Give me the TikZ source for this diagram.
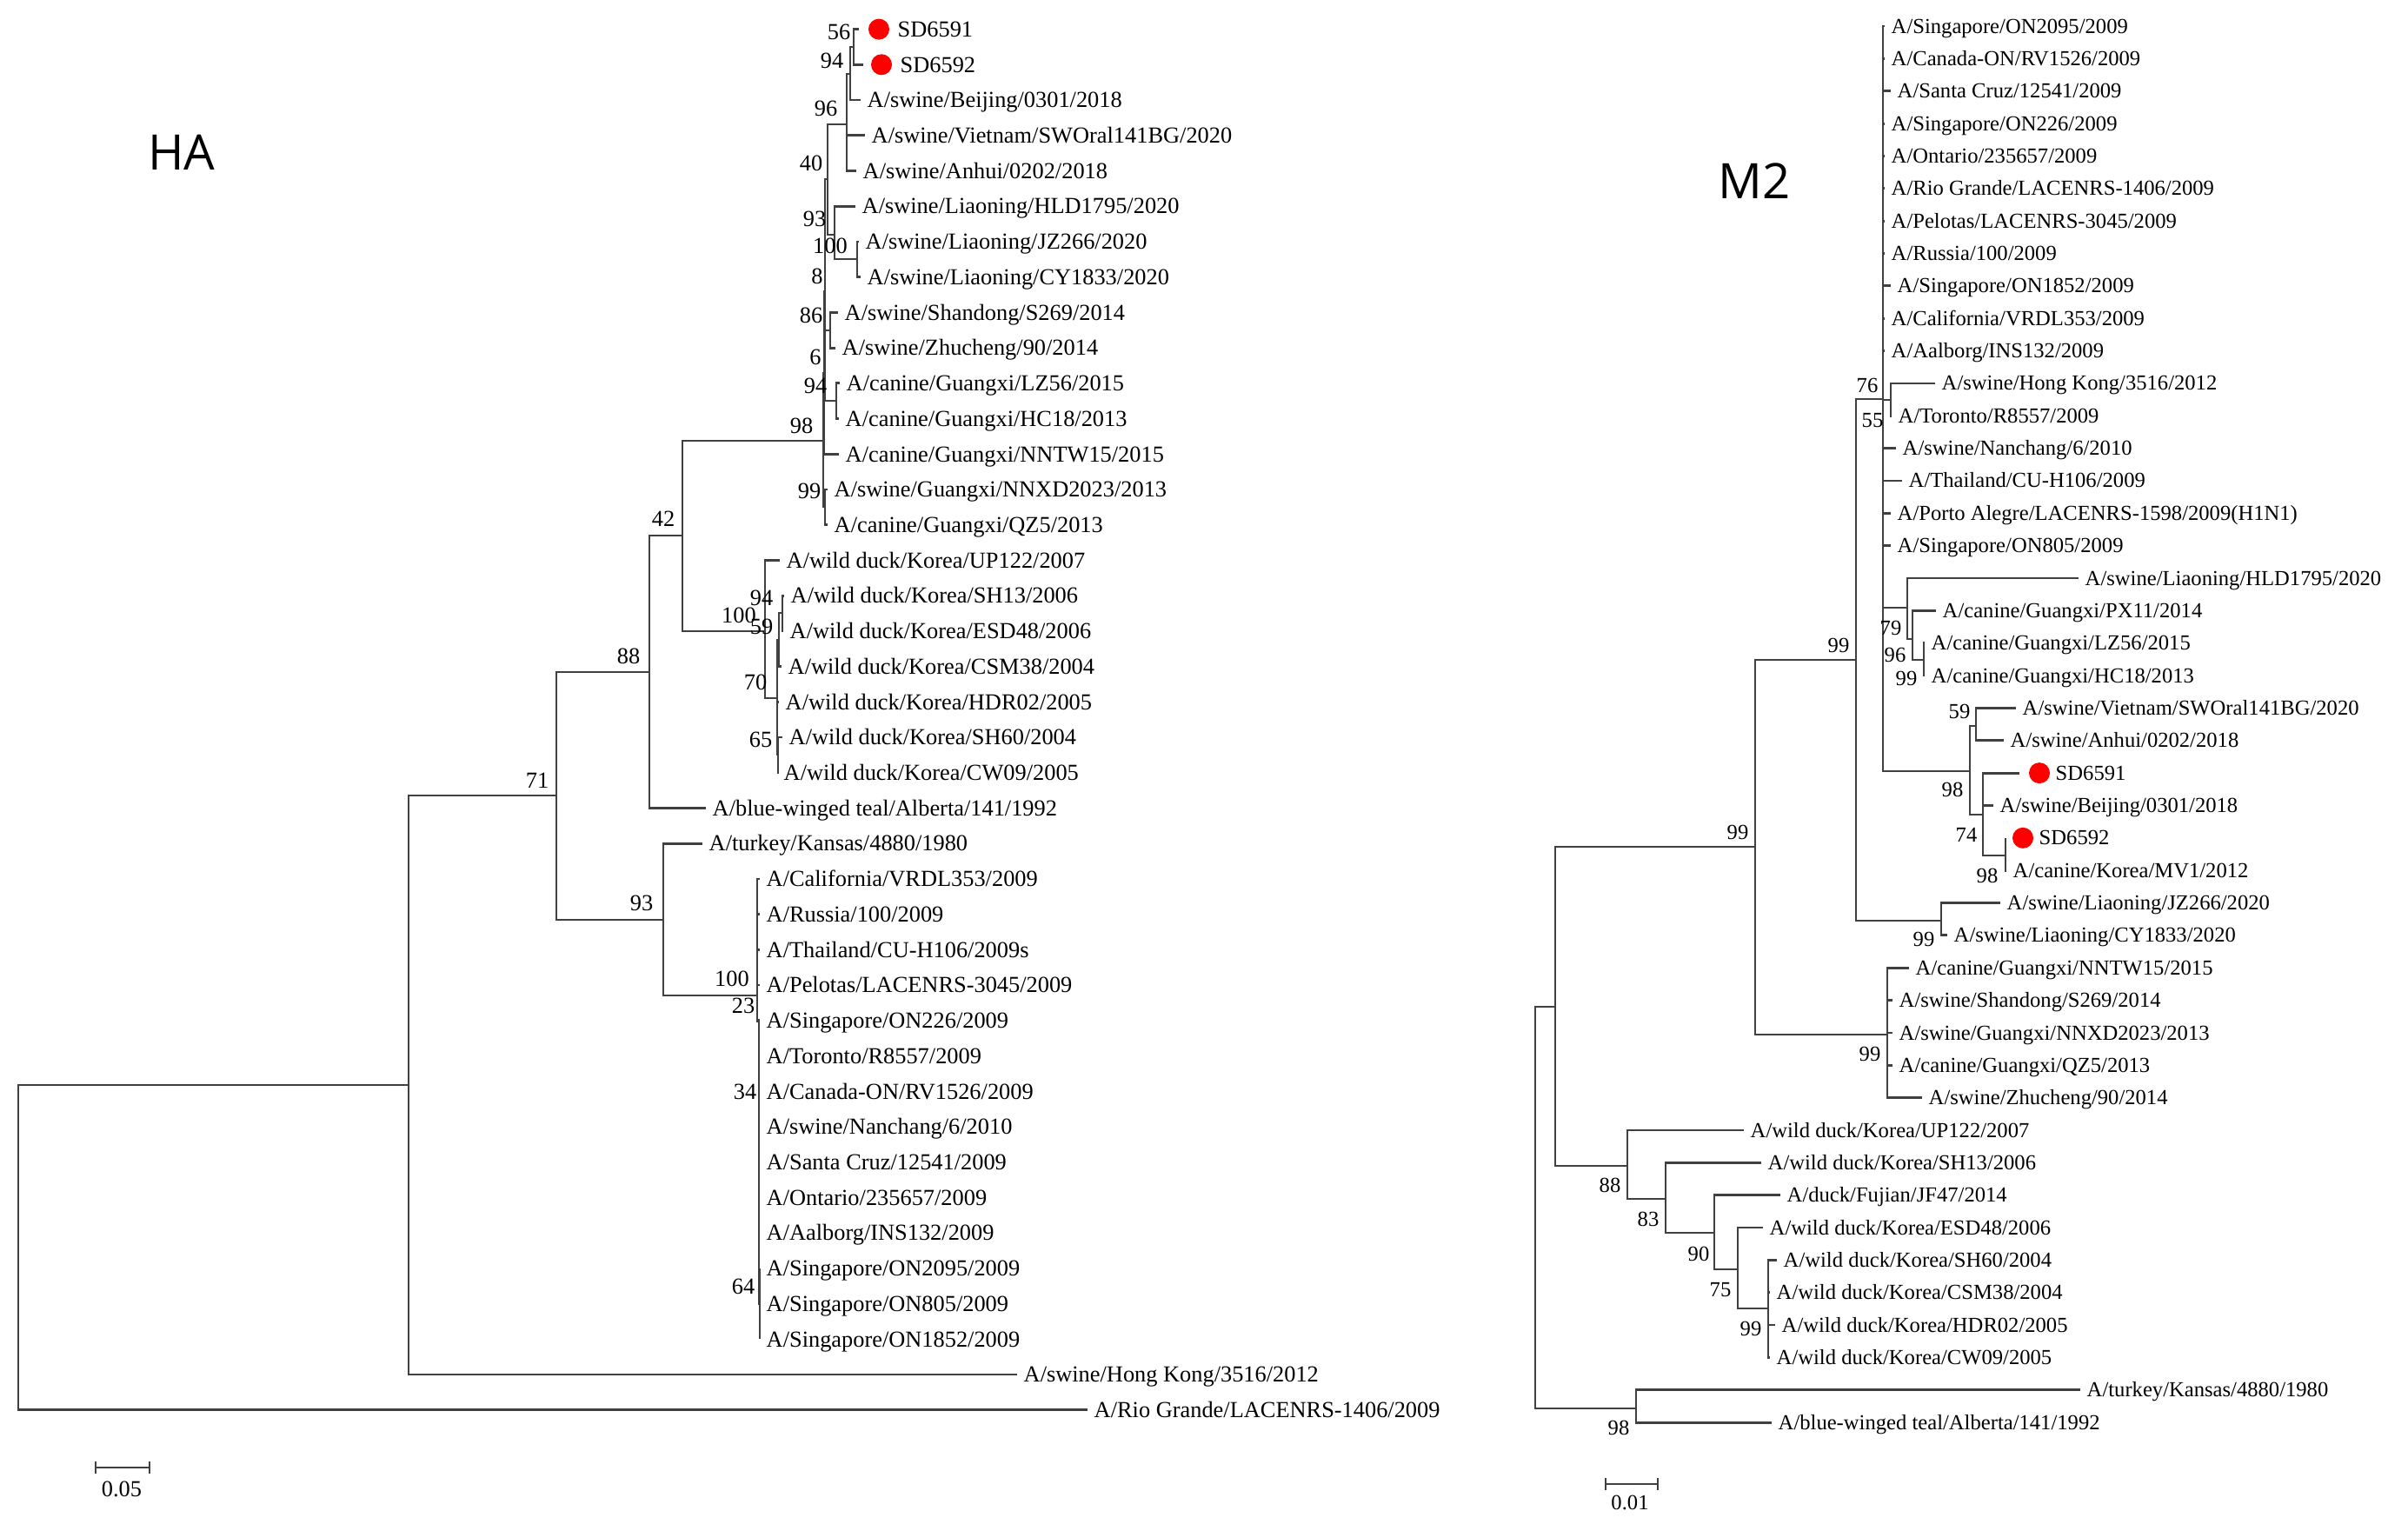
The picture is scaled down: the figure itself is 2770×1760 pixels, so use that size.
\documentclass[tikz,border=0pt]{standalone}
\usepackage{fontspec}
\setmainfont{Liberation Serif}
\newfontfamily\titlefont{Open Sans}
\usepackage{tikz}
\tikzset{
    branch/.style={draw=black!75, line width=0.8pt},
    haleaf/.style={anchor=west, inner xsep=0.7mm, inner ysep=0pt, text height=5pt, text depth=0pt, font=\fontsize{7.5}{9}\selectfont},
    mleaf/.style={haleaf, text height=4.6pt, font=\fontsize{7}{8.5}\selectfont},
    haboot/.style={inner sep=0pt, text height=5pt, text depth=0pt, font=\fontsize{7.5}{9}\selectfont},
    mboot/.style={haboot, text height=4.6pt, font=\fontsize{7}{8.5}\selectfont},
    hit/.style={circle, fill=red, inner sep=0pt, minimum size=2.4mm},
    treetitle/.style={inner sep=0pt, text height=11.4pt, text depth=0pt, font=\titlefont\fontsize{16}{19}\selectfont}
}

\begin{document}
\begin{tikzpicture}[x=0.01cm, y=-0.01cm]
    \useasboundingbox (0,0) rectangle (2770,1760);

    % HA tree
    \node[treetitle] (haTitle) at (209,175) {HA};

    % HA leaves
    \node[haleaf] (hSD1) at (1025,33.6) {SD6591};
    \node[hit] (hDot1) at (1011,33.6) {};
    \coordinate (hTip1) at (988,33.6);
    \node[haleaf] (hSD2) at (1028,74.3) {SD6592};
    \node[hit] (hDot2) at (1014,74.3) {};
    \coordinate (hTip2) at (993,74.3);
    \node[haleaf] (hBeijing) at (990,115.0) {A/swine/Beijing/0301/2018};
    \node[haleaf] (hVietnam) at (995,155.8) {A/swine/Vietnam/SWOral141BG/2020};
    \node[haleaf] (hAnhui) at (985,196.5) {A/swine/Anhui/0202/2018};
    \node[haleaf] (hHLD) at (984,237.2) {A/swine/Liaoning/HLD1795/2020};
    \node[haleaf] (hJZ) at (988,277.9) {A/swine/Liaoning/JZ266/2020};
    \node[haleaf] (hCY) at (990,318.6) {A/swine/Liaoning/CY1833/2020};
    \node[haleaf] (hShandong) at (964,359.4) {A/swine/Shandong/S269/2014};
    \node[haleaf] (hZhucheng) at (961,400.1) {A/swine/Zhucheng/90/2014};
    \node[haleaf] (hLZ) at (966,440.8) {A/canine/Guangxi/LZ56/2015};
    \node[haleaf] (hHC) at (965,481.5) {A/canine/Guangxi/HC18/2013};
    \node[haleaf] (hNNTW) at (965,522.2) {A/canine/Guangxi/NNTW15/2015};
    \node[haleaf] (hNNXD) at (952,563.0) {A/swine/Guangxi/NNXD2023/2013};
    \node[haleaf] (hQZ) at (952,603.7) {A/canine/Guangxi/QZ5/2013};
    \node[haleaf] (hUP) at (897,644.4) {A/wild duck/Korea/UP122/2007};
    \node[haleaf] (hSH13) at (902,685.1) {A/wild duck/Korea/SH13/2006};
    \node[haleaf] (hESD) at (901,725.8) {A/wild duck/Korea/ESD48/2006};
    \node[haleaf] (hCSM) at (899,766.6) {A/wild duck/Korea/CSM38/2004};
    \node[haleaf] (hHDR) at (896,807.3) {A/wild duck/Korea/HDR02/2005};
    \node[haleaf] (hSH60) at (900,848.0) {A/wild duck/Korea/SH60/2004};
    \node[haleaf] (hCW) at (894,888.7) {A/wild duck/Korea/CW09/2005};
    \node[haleaf] (hTeal) at (812,929.4) {A/blue-winged teal/Alberta/141/1992};
    \node[haleaf] (hTurkey) at (808,970.1) {A/turkey/Kansas/4880/1980};
    \node[haleaf] (hCal) at (874,1010.9) {A/California/VRDL353/2009};
    \node[haleaf] (hRus) at (874,1051.6) {A/Russia/100/2009};
    \node[haleaf] (hThai) at (874,1092.3) {A/Thailand/CU-H106/2009s};
    \node[haleaf] (hPel) at (874,1133.0) {A/Pelotas/LACENRS-3045/2009};
    \node[haleaf] (hON226) at (874,1173.7) {A/Singapore/ON226/2009};
    \node[haleaf] (hTor) at (874,1214.5) {A/Toronto/R8557/2009};
    \node[haleaf] (hCan) at (874,1255.2) {A/Canada-ON/RV1526/2009};
    \node[haleaf] (hNan) at (874,1295.9) {A/swine/Nanchang/6/2010};
    \node[haleaf] (hSC) at (874,1336.6) {A/Santa Cruz/12541/2009};
    \node[haleaf] (hOnt) at (874,1377.3) {A/Ontario/235657/2009};
    \node[haleaf] (hAal) at (874,1418.1) {A/Aalborg/INS132/2009};
    \node[haleaf] (hON2095) at (874,1458.8) {A/Singapore/ON2095/2009};
    \node[haleaf] (hON805) at (874,1499.5) {A/Singapore/ON805/2009};
    \node[haleaf] (hON1852) at (874,1540.2) {A/Singapore/ON1852/2009};
    \node[haleaf] (hHK) at (1170,1580.9) {A/swine/Hong Kong/3516/2012};
    \node[haleaf] (hRio) at (1251,1621.7) {A/Rio Grande/LACENRS-1406/2009};

    % HA inner nodes
    \coordinate (hR) at (21,1434);
    \coordinate (hA) at (470,1248);
    \coordinate (hB) at (640,915);
    \coordinate (hC) at (747,773);
    \coordinate (hD) at (763,1058);
    \coordinate (hE) at (785,616);
    \coordinate (hF) at (947,507);
    \coordinate (hK) at (948,429);
    \coordinate (h8) at (949,335);
    \coordinate (h40) at (952,206);
    \coordinate (h96) at (974,143);
    \coordinate (h94a) at (978,85);
    \coordinate (h56) at (982,54);
    \coordinate (h93) at (960,270);
    \coordinate (h100) at (986,298);
    \coordinate (h86) at (955,380);
    \coordinate (h94b) at (962,461);
    \coordinate (h99) at (949,583);
    \coordinate (hG) at (880,726);
    \coordinate (hH) at (894,803);
    \coordinate (h59) at (896,736);
    \coordinate (h94w) at (900,705);
    \coordinate (h65) at (895,868);
    \coordinate (hP) at (871,1145);
    \coordinate (h23) at (873,1175);
    \coordinate (h34) at (873,1276);
    \coordinate (h64) at (874,1500);

    % HA branches
    \draw[branch] (hR) |- (hA) (hR) |- (hRio);
    \draw[branch] (hA) |- (hB) (hA) |- (hHK);
    \draw[branch] (hB) |- (hC) (hB) |- (hD);
    \draw[branch] (hC) |- (hE) (hC) |- (hTeal);
    \draw[branch] (hE) |- (hF) (hE) |- (hG);
    \draw[branch] (hF) |- (hK) (hF) |- (h99);
    \draw[branch] (hK) |- (h8) (hK) |- (hNNTW);
    \draw[branch] (h8) |- (h40) (h8) |- (h86) (h8) |- (h94b);
    \draw[branch] (h40) |- (h96) (h40) |- (h93);
    \draw[branch] (h96) |- (h94a) (h96) |- (hVietnam) (h96) |- (hAnhui);
    \draw[branch] (h94a) |- (h56) (h94a) |- (hBeijing);
    \draw[branch] (h56) |- (hTip1) (h56) |- (hTip2);
    \draw[branch] (h93) |- (hHLD) (h93) |- (h100);
    \draw[branch] (h100) |- (hJZ) (h100) |- (hCY);
    \draw[branch] (h86) |- (hShandong) (h86) |- (hZhucheng);
    \draw[branch] (h94b) |- (hLZ) (h94b) |- (hHC);
    \draw[branch] (h99) |- (hNNXD) (h99) |- (hQZ);
    \draw[branch] (hG) |- (hUP) (hG) |- (hH);
    \draw[branch] (hH) |- (h59) (hH) |- (hHDR) (hH) |- (h65);
    \draw[branch] (h59) |- (h94w) (h59) |- (hCSM);
    \draw[branch] (h94w) |- (hSH13) (h94w) |- (hESD);
    \draw[branch] (h65) |- (hSH60) (h65) |- (hCW);
    \draw[branch] (hD) |- (hTurkey) (hD) |- (hP);
    \foreach \c in {hCal,hRus,hThai,hPel,h23} \draw[branch] (hP) |- (\c);
    \foreach \c in {hON226,hTor,h34} \draw[branch] (h23) |- (\c);
    \foreach \c in {hCan,hNan,hSC,hOnt,hAal,h64} \draw[branch] (h34) |- (\c);
    \foreach \c in {hON2095,hON805,hON1852} \draw[branch] (h64) |- (\c);

    % HA bootstrap values
    \node[haboot] (hb56) at (965,37) {56};
    \node[haboot] (hb94a) at (957,70) {94};
    \node[haboot] (hb96) at (950,125) {96};
    \node[haboot] (hb40) at (933,188) {40};
    \node[haboot] (hb93) at (937,252) {93};
    \node[haboot] (hb100) at (955,283) {100};
    \node[haboot] (hb8) at (940,318) {8};
    \node[haboot] (hb86) at (933,363) {86};
    \node[haboot] (hb6) at (938,411) {6};
    \node[haboot] (hb94b) at (938,444) {94};
    \node[haboot] (hb98) at (922,490) {98};
    \node[haboot] (hb99) at (931,565) {99};
    \node[haboot] (hb42) at (763,597) {42};
    \node[haboot] (hb94w) at (876,688) {94};
    \node[haboot] (hb100w) at (850,708) {100};
    \node[haboot] (hb59) at (876,721) {59};
    \node[haboot] (hb70) at (869,785) {70};
    \node[haboot] (hb65) at (875,851) {65};
    \node[haboot] (hb88) at (723,755) {88};
    \node[haboot] (hb71) at (618,898) {71};
    \node[haboot] (hb93d) at (738,1039) {93};
    \node[haboot] (hb100p) at (842,1126) {100};
    \node[haboot] (hb23) at (855,1157) {23};
    \node[haboot] (hb34) at (857,1256) {34};
    \node[haboot] (hb64) at (855,1480) {64};

    % HA scale bar
    \draw[branch] (110,1681) -- (110,1695) (110,1688) -- (172,1688) (172,1681) -- (172,1695);
    \node[haboot] (hScale) at (140,1713) {0.05};

    % M2 tree
    \node[treetitle] (mTitle) at (2018,208) {M2};

    % M2 leaves
    \node[mleaf] (mON2095) at (2168,30.0) {A/Singapore/ON2095/2009};
    \node[mleaf] (mCan) at (2168,67.4) {A/Canada-ON/RV1526/2009};
    \node[mleaf] (mSC) at (2175,104.7) {A/Santa Cruz/12541/2009};
    \node[mleaf] (mON226) at (2168,142.1) {A/Singapore/ON226/2009};
    \node[mleaf] (mOnt) at (2168,179.4) {A/Ontario/235657/2009};
    \node[mleaf] (mRio) at (2168,216.8) {A/Rio Grande/LACENRS-1406/2009};
    \node[mleaf] (mPel) at (2168,254.1) {A/Pelotas/LACENRS-3045/2009};
    \node[mleaf] (mRus) at (2168,291.5) {A/Russia/100/2009};
    \node[mleaf] (mON1852) at (2175,328.8) {A/Singapore/ON1852/2009};
    \node[mleaf] (mCal) at (2168,366.2) {A/California/VRDL353/2009};
    \node[mleaf] (mAal) at (2168,403.5) {A/Aalborg/INS132/2009};
    \node[mleaf] (mHK) at (2226,440.9) {A/swine/Hong Kong/3516/2012};
    \node[mleaf] (mTor) at (2176,478.2) {A/Toronto/R8557/2009};
    \node[mleaf] (mNan) at (2181,515.6) {A/swine/Nanchang/6/2010};
    \node[mleaf] (mThai) at (2188,552.9) {A/Thailand/CU-H106/2009};
    \node[mleaf] (mPorto) at (2175,590.3) {A/Porto Alegre/LACENRS-1598/2009(H1N1)};
    \node[mleaf] (mON805) at (2175,627.6) {A/Singapore/ON805/2009};
    \node[mleaf] (mHLD) at (2391,665.0) {A/swine/Liaoning/HLD1795/2020};
    \node[mleaf] (mPX) at (2227,702.3) {A/canine/Guangxi/PX11/2014};
    \node[mleaf] (mLZ) at (2214,739.7) {A/canine/Guangxi/LZ56/2015};
    \node[mleaf] (mHC) at (2214,777.0) {A/canine/Guangxi/HC18/2013};
    \node[mleaf] (mViet) at (2319,814.4) {A/swine/Vietnam/SWOral141BG/2020};
    \node[mleaf] (mAnhui) at (2305,851.7) {A/swine/Anhui/0202/2018};
    \node[mleaf] (mSD1) at (2357,889.1) {SD6591};
    \node[hit] (mDot1) at (2346,889.1) {};
    \coordinate (mTip1) at (2323,889.1);
    \node[mleaf] (mBeijing) at (2293,926.4) {A/swine/Beijing/0301/2018};
    \node[mleaf] (mSD2) at (2338,963.8) {SD6592};
    \node[hit] (mDot2) at (2327,963.8) {};
    \coordinate (mTip2) at (2307,963.8);
    \node[mleaf] (mMV1) at (2308,1001.1) {A/canine/Korea/MV1/2012};
    \node[mleaf] (mJZ) at (2301,1038.5) {A/swine/Liaoning/JZ266/2020};
    \node[mleaf] (mCY) at (2240,1075.8) {A/swine/Liaoning/CY1833/2020};
    \node[mleaf] (mNNTW) at (2196,1113.2) {A/canine/Guangxi/NNTW15/2015};
    \node[mleaf] (mShandong) at (2177,1150.5) {A/swine/Shandong/S269/2014};
    \node[mleaf] (mNNXD) at (2177,1187.9) {A/swine/Guangxi/NNXD2023/2013};
    \node[mleaf] (mQZ) at (2177,1225.2) {A/canine/Guangxi/QZ5/2013};
    \node[mleaf] (mZhucheng) at (2211,1262.6) {A/swine/Zhucheng/90/2014};
    \node[mleaf] (mUP) at (2006,1299.9) {A/wild duck/Korea/UP122/2007};
    \node[mleaf] (mSH13) at (2026,1337.3) {A/wild duck/Korea/SH13/2006};
    \node[mleaf] (mFujian) at (2048,1374.6) {A/duck/Fujian/JF47/2014};
    \node[mleaf] (mESD) at (2028,1412.0) {A/wild duck/Korea/ESD48/2006};
    \node[mleaf] (mSH60) at (2044,1449.3) {A/wild duck/Korea/SH60/2004};
    \node[mleaf] (mCSM) at (2036,1486.7) {A/wild duck/Korea/CSM38/2004};
    \node[mleaf] (mHDR) at (2042,1524.0) {A/wild duck/Korea/HDR02/2005};
    \node[mleaf] (mCW) at (2036,1561.4) {A/wild duck/Korea/CW09/2005};
    \node[mleaf] (mTurkey) at (2393,1598.7) {A/turkey/Kansas/4880/1980};
    \node[mleaf] (mTeal) at (2038,1636.1) {A/blue-winged teal/Alberta/141/1992};

    % M2 inner nodes
    \coordinate (mR) at (1766,1389);
    \coordinate (mQ) at (1789,1158);
    \coordinate (mQ99) at (2019,974);
    \coordinate (mQ99b) at (2135,759);
    \coordinate (m76) at (2166,459);
    \coordinate (m55) at (2175,460);
    \coordinate (m79) at (2194,699);
    \coordinate (m96) at (2200,735);
    \coordinate (m99c) at (2213,759);
    \coordinate (m98) at (2266,887);
    \coordinate (m59) at (2273,835);
    \coordinate (m74) at (2281,937);
    \coordinate (m98d) at (2307,984);
    \coordinate (mLJ) at (2233,1059);
    \coordinate (mGX) at (2171,1190);
    \coordinate (m88) at (1872,1341);
    \coordinate (m83) at (1916,1379);
    \coordinate (m90) at (1972,1418);
    \coordinate (m75) at (1999,1460);
    \coordinate (m99w) at (2034,1505);
    \coordinate (mT) at (1882,1620);

    % M2 branches
    \draw[branch] (mR) |- (mQ) (mR) |- (mT);
    \draw[branch] (mQ) |- (mQ99) (mQ) |- (m88);
    \draw[branch] (mQ99) |- (mQ99b) (mQ99) |- (mGX);
    \draw[branch] (mQ99b) |- (m76) (mQ99b) |- (mLJ);
    \foreach \c in {mON2095,mCan,mSC,mON226,mOnt,mRio,mPel,mRus,mON1852,mCal,mAal,m55,mNan,mThai,mPorto,mON805,m79,m98}
        \draw[branch] (m76) |- (\c);
    \draw[branch] (m55) |- (mHK) (m55) |- (mTor);
    \draw[branch] (m79) |- (mHLD) (m79) |- (m96);
    \draw[branch] (m96) |- (mPX) (m96) |- (m99c);
    \draw[branch] (m99c) |- (mLZ) (m99c) |- (mHC);
    \draw[branch] (m98) |- (m59) (m98) |- (m74);
    \draw[branch] (m59) |- (mViet) (m59) |- (mAnhui);
    \draw[branch] (m74) |- (mTip1) (m74) |- (mBeijing) (m74) |- (m98d);
    \draw[branch] (m98d) |- (mTip2) (m98d) |- (mMV1);
    \draw[branch] (mLJ) |- (mJZ) (mLJ) |- (mCY);
    \foreach \c in {mNNTW,mShandong,mNNXD,mQZ,mZhucheng} \draw[branch] (mGX) |- (\c);
    \draw[branch] (m88) |- (mUP) (m88) |- (m83);
    \draw[branch] (m83) |- (mSH13) (m83) |- (m90);
    \draw[branch] (m90) |- (mFujian) (m90) |- (m75);
    \draw[branch] (m75) |- (mESD) (m75) |- (m99w);
    \foreach \c in {mSH60,mCSM,mHDR,mCW} \draw[branch] (m99w) |- (\c);
    \draw[branch] (mT) |- (mTurkey) (mT) |- (mTeal);

    % M2 bootstrap values
    \node[mboot] (mb76) at (2148,443) {76};
    \node[mboot] (mb55) at (2154,483) {55};
    \node[mboot] (mb79) at (2175,722) {79};
    \node[mboot] (mb96) at (2180,753) {96};
    \node[mboot] (mb99c) at (2193,780) {99};
    \node[mboot] (mb99b) at (2115,742) {99};
    \node[mboot] (mb99a) at (1999,957) {99};
    \node[mboot] (mb59) at (2254,818) {59};
    \node[mboot] (mb98) at (2246,908) {98};
    \node[mboot] (mb74) at (2262,960) {74};
    \node[mboot] (mb98d) at (2286,1007) {98};
    \node[mboot] (mb99l) at (2213,1080) {99};
    \node[mboot] (mb99g) at (2151,1212) {99};
    \node[mboot] (mb88) at (1852,1363) {88};
    \node[mboot] (mb83) at (1896,1402) {83};
    \node[mboot] (mb90) at (1954,1442) {90};
    \node[mboot] (mb75) at (1979,1483) {75};
    \node[mboot] (mb99w) at (2014,1528) {99};
    \node[mboot] (mb98t) at (1862,1642) {98};

    % M2 scale bar
    \draw[branch] (1847,1700) -- (1847,1714) (1847,1707) -- (1907,1707) (1907,1700) -- (1907,1714);
    \node[mboot] (mScale) at (1875,1728) {0.01};
\end{tikzpicture}
\end{document}
